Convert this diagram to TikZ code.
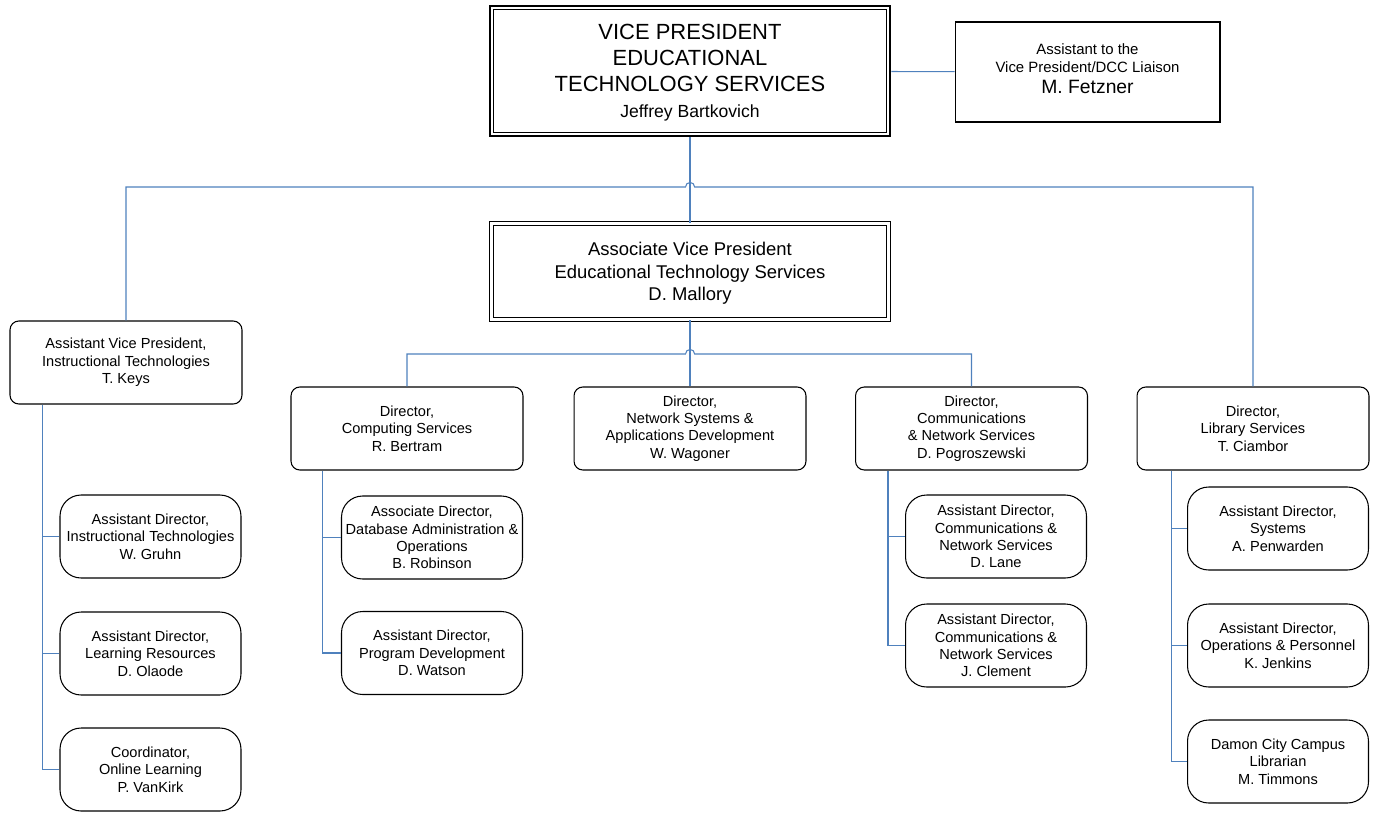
\documentclass[tikz,border=0pt]{standalone}
\usepackage{fontspec}
\setmainfont{Liberation Sans}
\usetikzlibrary{positioning, calc}
\usepackage{xcolor}
\definecolor{linkblue}{RGB}{79,129,189}

\tikzset{
  box/.style={draw, line width=0.6pt, align=center, inner sep=0pt, font=\fontsize{8.3}{9.9}\selectfont},
  headbox/.style={box, rounded corners=5pt, minimum width=4.64cm, minimum height=1.66cm},
  subbox/.style={box, rounded corners=12pt, minimum width=3.62cm, minimum height=1.66cm},
  link/.style={draw=linkblue, line width=0.6pt},
}

\begin{document}
\begin{tikzpicture}[x=0.02cm, y=-0.02cm]
      \useasboundingbox (0,0) rectangle (1379,812);

      \node[box, line width=1.5pt, text depth=0pt, minimum width=8cm, minimum height=2.6cm, font=\fontsize{12.5}{14.7}\selectfont] (vp) at (690,71)
        {VICE PRESIDENT\\EDUCATIONAL\\TECHNOLOGY SERVICES\\{\fontsize{10}{12}\selectfont Jeffrey Bartkovich}};
      \draw[line width=0.6pt] ($(vp.north west)+(4.5,4.5)$) rectangle ($(vp.south east)+(-4.5,-4.5)$);
      \node[box, text depth=4pt, minimum width=5.3cm, minimum height=2cm, font=\fontsize{8.5}{10.2}\selectfont] (asst) at (1087.5,72)
        {Assistant to the\\Vice President/DCC Liaison\\[1.5pt]{\fontsize{11}{12}\selectfont M. Fetzner}};
      \node[box, double, double distance=1.4pt, text depth=0pt, minimum width=7.94cm, minimum height=1.92cm, font=\fontsize{10.5}{12.75}\selectfont] (avp) at (690,271.5)
        {Associate Vice President\\Educational Technology Services\\D. Mallory};

      \node[headbox] (keys) at (126,362.5) {Assistant Vice President,\\Instructional Technologies\\T. Keys};
      \node[headbox] (comp) at (407,428.5) {Director,\\Computing Services\\R. Bertram};
      \node[headbox] (netw) at (690,428.5) {Director,\\Network Systems \&\\Applications Development\\W. Wagoner};
      \node[headbox] (comm) at (971.5,428.5) {Director,\\Communications\\\& Network Services\\D. Pogroszewski};
      \node[headbox] (lib) at (1253,428.5) {Director,\\Library Services\\T. Ciambor};

      \node[subbox] (gruhn) at (150.5,536.5) {Assistant Director,\\Instructional Technologies\\W. Gruhn};
      \node[subbox] (olaode) at (150.5,653.5) {Assistant Director,\\Learning Resources\\D. Olaode};
      \node[subbox] (vankirk) at (150.5,769.5) {Coordinator,\\Online Learning\\P. VanKirk};
      \node[subbox] (robinson) at (432,537.5) {Associate Director,\\Database Administration \&\\Operations\\B. Robinson};
      \node[subbox] (watson) at (432,653) {Assistant Director,\\Program Development\\D. Watson};
      \node[subbox] (lane) at (996,536.5) {Assistant Director,\\Communications \&\\Network Services\\D. Lane};
      \node[subbox] (clement) at (996,645.5) {Assistant Director,\\Communications \&\\Network Services\\J. Clement};
      \node[subbox] (penwarden) at (1278,528.5) {Assistant Director,\\Systems\\A. Penwarden};
      \node[subbox] (jenkins) at (1278,645.5) {Assistant Director,\\Operations \& Personnel\\K. Jenkins};
      \node[subbox] (timmons) at (1278,761.5) {Damon City Campus\\Librarian\\M. Timmons};

      \coordinate (hop1) at (690,187);
      \coordinate (hop2) at (690,354);

      \draw[link] (vp) -- (asst);
      \draw[link] (vp.south) -- (avp.north);
      \draw[link] (keys.north) |- ($(hop1)+(-4.5,0)$) arc[start angle=180, end angle=0, radius=2.6pt] -- (lib.north |- hop1) -- (lib.north);
      \draw[link] (avp.south) -- (netw.north);
      \draw[link] (comp.north) |- ($(hop2)+(-4.5,0)$) arc[start angle=180, end angle=0, radius=2.6pt] -- (comm.north |- hop2) -- (comm.north);

      \coordinate (ktrunk) at ($(keys.south west)+(33,0)$);
      \coordinate (ctrunk) at ($(comp.south west)+(32,0)$);
      \coordinate (mtrunk) at ($(comm.south west)+(33,0)$);
      \coordinate (ltrunk) at ($(lib.south west)+(35,0)$);

      \draw[link] (ktrunk) |- (vankirk.west);
      \draw[link] (ctrunk) |- (watson.west);
      \draw[link] (mtrunk) |- (clement.west);
      \draw[link] (ltrunk) |- (timmons.west);
      \foreach \n/\t in {gruhn/ktrunk, olaode/ktrunk, robinson/ctrunk, lane/mtrunk, penwarden/ltrunk, jenkins/ltrunk}
        \draw[link] (\t |- \n.west) -- (\n.west);

    \end{tikzpicture}
\end{document}
